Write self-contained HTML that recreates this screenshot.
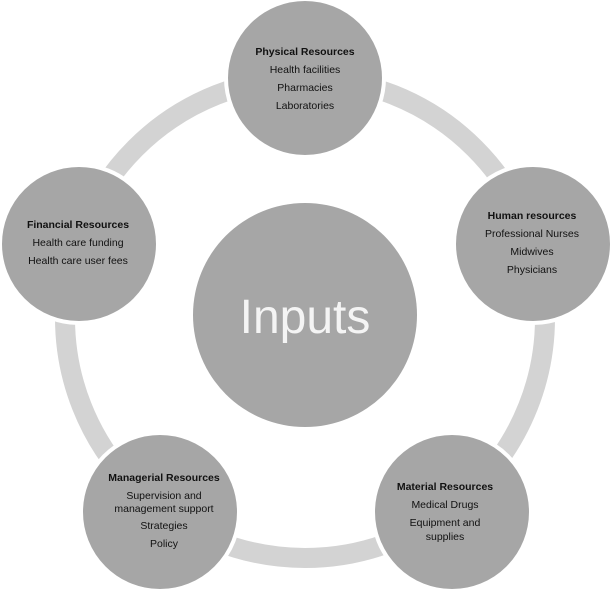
<!DOCTYPE html>
<html><head><style>
body{margin:0;background:#fff;}
svg text{font-family:"Liberation Sans",sans-serif;fill:#111;font-size:10.5px;text-anchor:middle;}
</style></head><body>
<svg width="610" height="589" xmlns="http://www.w3.org/2000/svg">
<circle cx="305" cy="318" r="240" fill="none" stroke="#d3d3d3" stroke-width="20"/>
<circle cx="305" cy="315" r="112" fill="#a6a6a6"/>
<text x="305" y="333" style="font-size:48px;fill:#f4f4f4">Inputs</text>
<g fill="#a6a6a6" stroke="#fff" stroke-width="4">
<circle cx="305" cy="78" r="79"/>
<circle cx="533" cy="244" r="79"/>
<circle cx="452" cy="512" r="79"/>
<circle cx="160" cy="512" r="79"/>
<circle cx="79" cy="244" r="79"/>
</g>
<text x="305" y="55" font-weight="bold">Physical Resources</text>
<text x="305" y="73">Health facilities</text>
<text x="305" y="91">Pharmacies</text>
<text x="305" y="109">Laboratories</text>
<text x="532" y="219" font-weight="bold">Human resources</text>
<text x="532" y="237">Professional Nurses</text>
<text x="532" y="255">Midwives</text>
<text x="532" y="273">Physicians</text>
<text x="445" y="490" font-weight="bold">Material Resources</text>
<text x="445" y="508">Medical Drugs</text>
<text x="445" y="526">Equipment and</text>
<text x="445" y="540">supplies</text>
<text x="164" y="481" font-weight="bold">Managerial Resources</text>
<text x="164" y="499">Supervision and</text>
<text x="164" y="512">management support</text>
<text x="164" y="529">Strategies</text>
<text x="164" y="547">Policy</text>
<text x="78" y="228" font-weight="bold">Financial Resources</text>
<text x="78" y="246">Health care funding</text>
<text x="78" y="264">Health care user fees</text>
</svg>
</body></html>
